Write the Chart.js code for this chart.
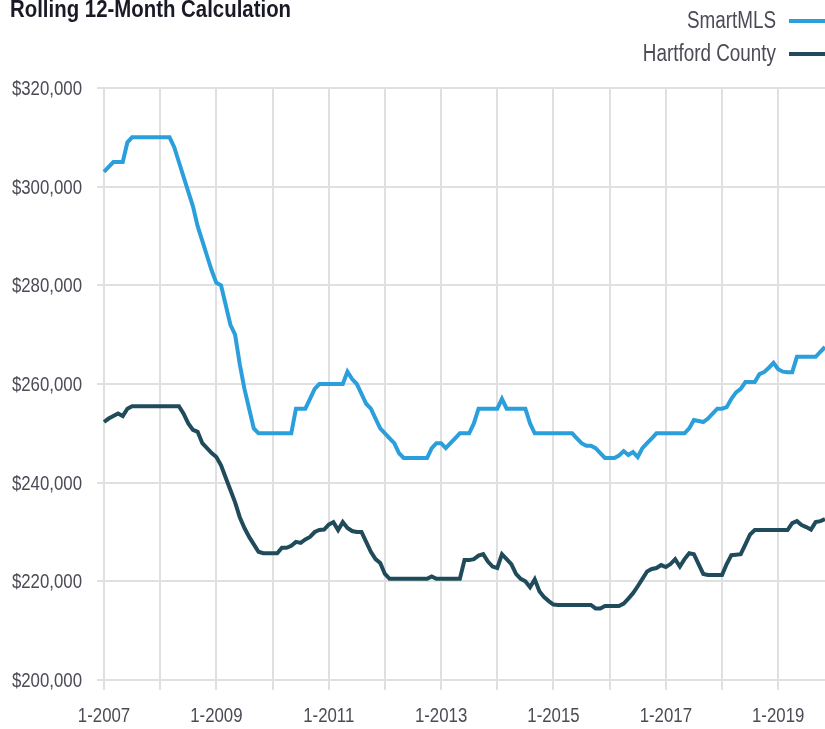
<!DOCTYPE html>
<html>
<head>
<meta charset="utf-8">
<script src="https://cdn.jsdelivr.net/npm/chart.js@4"></script>
<style>
  html, body { margin: 0; padding: 0; background: #fff; }
  #wrap { width: 825px; height: 729px; position: relative; }
</style>
</head>
<body>
<div id="wrap"><canvas id="chart"></canvas></div>
<script>
// Monthly values, 1-2007 .. 11-2019
const years = [2007, 2008, 2009, 2010, 2011, 2012, 2013, 2014, 2015, 2016, 2017, 2018, 2019];
const lastMonth = 11;

const smartMLS = [
  303000, 304000, 305000, 305000, 305000, 309000, 310000, 310000, 310000, 310000, 310000, 310000,
  310000, 310000, 310000, 308000, 305000, 302000, 299000, 296000, 292000, 289000, 286000, 283000,
  280500, 280000, 276000, 272000, 270000, 264000, 259000, 255000, 251000, 250000, 250000, 250000,
  250000, 250000, 250000, 250000, 250000, 255000, 255000, 255000, 257000, 259000, 260000, 260000,
  260000, 260000, 260000, 260000, 262500, 261000, 260000, 258000, 256000, 255000, 253000, 251000,
  250000, 249000, 248000, 246000, 245000, 245000, 245000, 245000, 245000, 245000, 247000, 248000,
  248000, 247000, 248000, 249000, 250000, 250000, 250000, 252000, 255000, 255000, 255000, 255000,
  255000, 257000, 255000, 255000, 255000, 255000, 255000, 252000, 250000, 250000, 250000, 250000,
  250000, 250000, 250000, 250000, 250000, 249000, 248000, 247500, 247500, 247000, 246000, 245000,
  245000, 245000, 245500, 246400, 245600, 246200, 245200, 247000, 248000, 249000, 250000, 250000,
  250000, 250000, 250000, 250000, 250000, 251000, 252700, 252500, 252300, 253000, 254000, 255000,
  255000, 255300, 257000, 258300, 259000, 260400, 260400, 260400, 262000, 262400, 263300, 264300,
  263000, 262500, 262400, 262400, 265500, 265500, 265500, 265500, 265500, 266500, 267500
];

const hartford = [
  252300, 253000, 253500, 254000, 253500, 255000, 255500, 255500, 255500, 255500, 255500, 255500,
  255500, 255500, 255500, 255500, 255500, 254000, 252000, 250700, 250300, 248000, 247000, 246000,
  245200, 243500, 241000, 238500, 236000, 233000, 230800, 229000, 227500, 226000, 225700, 225700,
  225700, 225700, 226800, 226800, 227200, 228000, 227800, 228500, 229000, 230000, 230400, 230500,
  231500, 232000, 230400, 232000, 230800, 230200, 230000, 230000, 228000, 226000, 224500, 223700,
  221500, 220500, 220500, 220500, 220500, 220500, 220500, 220500, 220500, 220500, 221000, 220500,
  220500, 220500, 220500, 220500, 220500, 224300, 224300, 224500, 225200, 225500, 224000, 223000,
  222700, 225500, 224500, 223500, 221500, 220500, 220000, 218800, 220400, 218000, 216800, 216000,
  215300, 215200, 215200, 215200, 215200, 215200, 215200, 215200, 215200, 214500, 214500, 215000,
  215000, 215000, 215000, 215500, 216500, 217600, 219000, 220500, 222000, 222500, 222700, 223300,
  222900, 223500, 224500, 223000, 224500, 225700, 225500, 223500, 221500, 221300, 221300, 221300,
  221300, 223500, 225300, 225400, 225500, 227500, 229500, 230400, 230400, 230400, 230400, 230400,
  230400, 230400, 230400, 231800, 232200, 231400, 231000, 230500, 232000, 232200, 232600
];

const yTicks = [200000, 220000, 240000, 260000, 280000, 300000, 320000];
const labeledYears = [2007, 2009, 2011, 2013, 2015, 2017, 2019];

// month labels like "1-2007"
const labels = [];
years.forEach(y => {
  for (let m = 1; m <= 12; m++) {
    if (y === years[years.length - 1] && m > lastMonth) break;
    labels.push(m + '-' + y);
  }
});

const DOLLAR = String.fromCharCode(36);
const FONT = '"Liberation Sans", Arial, sans-serif';
const TEXT = '#4b4b57';
const GRID = '#e0e0e0';

// draw narrow text: the reference uses a condensed face, so squeeze horizontally
function narrowText(ctx, text, x, y, align, sx) {
  ctx.save();
  ctx.translate(x, y);
  ctx.scale(sx, 1);
  ctx.textAlign = align;
  ctx.fillText(text, 0, 0);
  ctx.restore();
}

// title, stacked legend and axis labels
const textPlugin = {
  id: 'texts',
  afterDraw(chart) {
    const ctx = chart.ctx;
    const xs = chart.scales.x, ys = chart.scales.y;
    ctx.save();
    ctx.textBaseline = 'alphabetic';

    ctx.fillStyle = '#1a1a26';
    ctx.font = 'bold 24px ' + FONT;
    narrowText(ctx, 'Rolling 12-Month Calculation', 10, 17, 'left', 0.85);

    ctx.font = '23px ' + FONT;
    chart.data.datasets.forEach((ds, i) => {
      const base = 28 + i * 33;
      ctx.fillStyle = TEXT;
      narrowText(ctx, ds.label, 776, base, 'right', 0.82);
      ctx.strokeStyle = ds.borderColor;
      ctx.lineWidth = 4;
      ctx.beginPath();
      ctx.moveTo(789, base - 7);
      ctx.lineTo(825, base - 7);
      ctx.stroke();
    });

    ctx.font = '20px ' + FONT;
    ctx.fillStyle = TEXT;
    yTicks.forEach(v => {
      narrowText(ctx, DOLLAR + v.toLocaleString('en-US'), 82, ys.getPixelForValue(v) + 7, 'right', 0.84);
    });
    labels.forEach((lbl, i) => {
      const p = lbl.split('-');
      if (p[0] === '1' && labeledYears.includes(+p[1])) {
        narrowText(ctx, lbl, xs.getPixelForValue(i), 722, 'center', 0.84);
      }
    });
    ctx.restore();
  }
};

function janColor(c) {
  const lbl = labels[c.index];
  return lbl && lbl.startsWith('1-') ? GRID : 'rgba(0,0,0,0)';
}

new Chart(document.getElementById('chart'), {
  type: 'line',
  data: {
    labels: labels,
    datasets: [
      { label: 'SmartMLS', data: smartMLS, borderColor: '#2b9fdc', borderWidth: 4, pointRadius: 0, tension: 0 },
      { label: 'Hartford County', data: hartford, borderColor: '#1f4b5b', borderWidth: 4, pointRadius: 0, tension: 0 }
    ]
  },
  options: {
    responsive: true,
    maintainAspectRatio: false,
    animation: false,
    layout: { padding: { top: 88, left: 10, right: 0, bottom: 0 } },
    plugins: {
      legend: { display: false },
      tooltip: { enabled: false }
    },
    scales: {
      x: {
        type: 'category',
        grid: { color: janColor, lineWidth: 2, tickLength: 10 },
        border: { display: false },
        ticks: { display: false, autoSkip: false, maxRotation: 0 },
        afterFit(scale) {
          scale.height = 49;
          scale.paddingLeft = 0;
          scale.paddingRight = 0;
        }
      },
      y: {
        min: yTicks[0],
        max: yTicks[yTicks.length - 1],
        afterBuildTicks(scale) { scale.ticks = yTicks.map(v => ({ value: v })); },
        grid: { color: GRID, lineWidth: 2, tickLength: 7 },
        border: { display: false },
        ticks: { display: false },
        afterFit(scale) {
          scale.width = 94;
          scale.paddingTop = 0;
          scale.paddingBottom = 0;
        }
      }
    }
  },
  plugins: [textPlugin]
});
</script>
</body>
</html>
